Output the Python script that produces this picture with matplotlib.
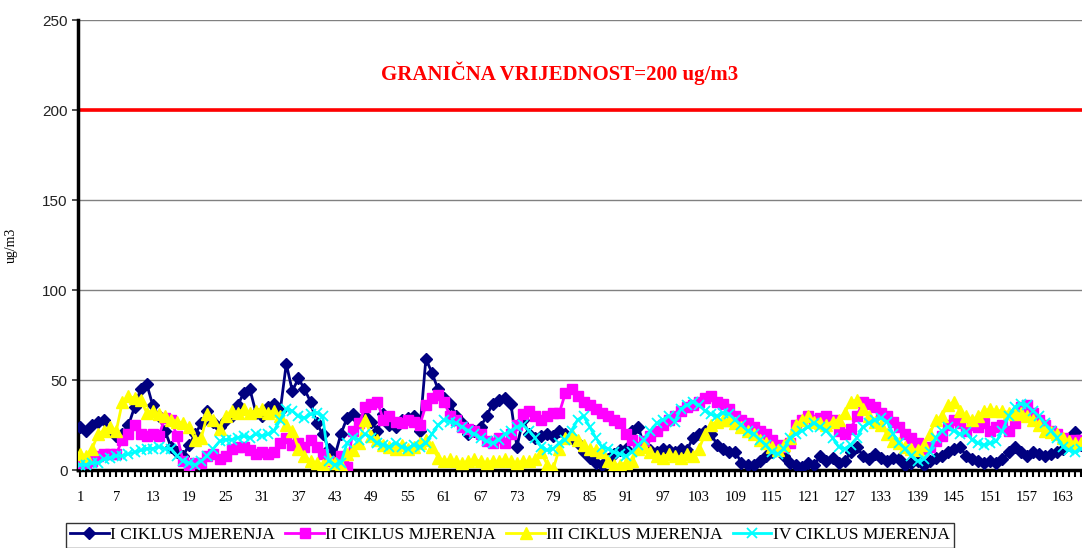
import matplotlib
matplotlib.use("Agg")
import matplotlib.pyplot as plt

ciklus_1 = [24, 22, 25, 27, 28, 22, 19, 20, 25, 35, 45, 48, 36, 30, 22, 13, 10, 8, 14, 20,
            26, 33, 27, 24, 28, 30, 36, 43, 45, 32, 30, 35, 37, 33, 59, 44, 51, 45, 38, 26,
            20, 12, 8, 20, 29, 31, 28, 30, 27, 22, 31, 25, 24, 28, 29, 30, 22, 62, 54, 45,
            40, 37, 30, 26, 20, 22, 24, 30, 37, 39, 40, 37, 13, 28, 20, 18, 19, 20, 19, 22,
            20, 18, 15, 10, 7, 4, 3, 6, 9, 11, 12, 22, 24, 13, 11, 10, 12, 11, 10, 12,
            11, 18, 20, 22, 20, 14, 12, 10, 10, 4, 3, 3, 5, 8, 10, 11, 8, 4, 3, 2,
            4, 3, 8, 5, 7, 4, 5, 10, 13, 8, 6, 9, 7, 5, 7, 6, 3, 4, 5, 3,
            5, 7, 8, 10, 12, 13, 8, 6, 5, 4, 5, 4, 6, 10, 13, 10, 8, 10, 9, 8,
            9, 10, 12, 18, 21, 14]
ciklus_2 = [4, 4, 5, 8, 9, 9, 9, 17, 20, 25, 20, 19, 20, 19, 29, 28, 19, 5, 3, 4,
            4, 8, 9, 6, 8, 12, 13, 13, 11, 9, 10, 9, 10, 15, 18, 14, 15, 13, 17, 13,
            9, 5, 4, 8, 2, 22, 26, 35, 37, 38, 28, 30, 27, 26, 28, 27, 25, 36, 40, 42,
            38, 30, 28, 24, 23, 22, 20, 16, 15, 18, 15, 20, 25, 31, 33, 30, 28, 30, 32, 32,
            43, 45, 41, 38, 36, 34, 32, 30, 28, 26, 20, 17, 13, 16, 19, 22, 25, 28, 30, 33,
            35, 36, 38, 40, 41, 38, 37, 34, 30, 28, 26, 24, 22, 20, 17, 14, 13, 15, 25, 28,
            30, 28, 29, 30, 28, 22, 20, 23, 30, 38, 37, 35, 32, 30, 27, 24, 20, 18, 15, 12,
            13, 16, 19, 25, 28, 26, 22, 25, 24, 26, 22, 24, 25, 22, 26, 35, 36, 32, 28, 25,
            22, 20, 18, 16, 17, 17]
ciklus_3 = [9, 8, 12, 20, 22, 24, 22, 38, 41, 40, 39, 32, 33, 31, 30, 28, 27, 26, 24, 17,
            18, 31, 28, 23, 30, 33, 32, 34, 32, 33, 34, 32, 33, 30, 25, 22, 12, 8, 5, 4,
            3, 6, 4, 3, 9, 11, 15, 28, 19, 17, 14, 13, 12, 14, 12, 13, 15, 17, 13, 7,
            5, 6, 5, 4, 5, 6, 5, 4, 5, 5, 6, 5, 4, 5, 5, 6, 10, 3, 1, 12,
            18, 20, 17, 14, 12, 11, 10, 5, 3, 3, 4, 5, 12, 13, 10, 8, 7, 9, 8, 7,
            9, 8, 12, 20, 25, 27, 28, 28, 26, 24, 22, 20, 17, 15, 13, 11, 14, 18, 25, 28,
            30, 27, 26, 25, 27, 28, 32, 38, 39, 34, 30, 27, 25, 20, 16, 15, 13, 12, 11, 14,
            20, 28, 30, 36, 38, 33, 30, 28, 30, 33, 34, 33, 33, 32, 31, 32, 30, 28, 25, 22,
            21, 20, 18, 16, 15, 15]
ciklus_4 = [3, 3, 4, 4, 6, 7, 8, 8, 9, 10, 11, 12, 12, 13, 12, 12, 8, 5, 4, 3,
            5, 8, 12, 16, 17, 17, 18, 19, 18, 20, 19, 20, 22, 28, 34, 33, 30, 29, 31, 32,
            30, 5, 3, 4, 15, 18, 17, 20, 18, 15, 14, 13, 15, 13, 12, 14, 13, 15, 20, 25,
            28, 27, 26, 24, 22, 20, 18, 16, 15, 17, 20, 22, 24, 25, 22, 18, 13, 11, 12, 15,
            17, 22, 28, 30, 24, 18, 13, 12, 10, 9, 8, 10, 14, 17, 22, 26, 28, 30, 27, 34,
            36, 38, 36, 33, 31, 30, 32, 31, 28, 25, 22, 20, 17, 14, 10, 9, 12, 18, 20, 22,
            24, 26, 24, 22, 18, 13, 12, 14, 18, 24, 26, 28, 29, 27, 20, 15, 12, 8, 5, 6,
            10, 18, 22, 24, 22, 20, 21, 17, 15, 14, 15, 16, 22, 30, 35, 37, 36, 33, 30, 26,
            22, 18, 13, 11, 10, 12]

series_labels = ["I CIKLUS MJERENJA", "II CIKLUS MJERENJA", "III CIKLUS MJERENJA", "IV CIKLUS MJERENJA"]
limit_value = 200
limit_text = "GRANIČNA VRIJEDNOST=200 ug/m3"
y_label = "ug/m3"

n = len(ciklus_1)
x = list(range(1, n + 1))

fig = plt.figure(figsize=(10.82, 5.48), dpi=100)
ax = fig.add_axes([0.072, 0.142, 0.928, 0.8215])

ax.set_ylim(0, 250)
ax.set_xlim(0.67, 166.1)
ax.set_yticks([0, 50, 100, 150, 200, 250])
ax.yaxis.grid(True, color="#808080", linewidth=1.0)
ax.set_axisbelow(True)

ax.axhline(limit_value, color="#FF0000", linewidth=2.6, zorder=2)
ax.text(80, 220.5, limit_text, color="#FF0000", fontsize=15, fontweight="bold",
        family="Liberation Serif", ha="center", va="center")

styles = [
    dict(color="#000080", marker="D", markersize=6),
    dict(color="#FF00FF", marker="s", markersize=6.5),
    dict(color="#FFFF00", marker="^", markersize=8),
    dict(color="#00FFFF", marker="x", markersize=7, markeredgewidth=1.3),
]
handles = []
for data, lab, st in zip([ciklus_1, ciklus_2, ciklus_3, ciklus_4], series_labels, styles):
    ln, = ax.plot(x, data, linewidth=2.0, color=st["color"], marker=st["marker"],
                  markersize=st["markersize"], markeredgewidth=st.get("markeredgewidth", 1.0),
                  markerfacecolor=st["color"], markeredgecolor=st["color"], label=lab, zorder=3)
    handles.append(ln)

for s in ["top", "right"]:
    ax.spines[s].set_visible(False)
ax.spines["left"].set_linewidth(2.5)
ax.spines["bottom"].set_linewidth(2.5)

ax.set_xticks(list(range(1, n + 1, 6)))
ax.set_xticks(x, minor=True)
ax.tick_params(axis="x", which="both", length=5, width=1.5, direction="out", pad=10,
               labelsize=10.5)
ax.tick_params(axis="y", which="major", length=4, width=1.2, direction="out", labelsize=11,
               colors="#333333", labelcolor="#222222")
for lbl in ax.get_xticklabels():
    lbl.set_family("Liberation Serif")
for lbl in ax.get_yticklabels():
    lbl.set_family("Liberation Sans")

ax.set_ylabel(y_label, family="Liberation Serif", fontsize=10)
ax.yaxis.set_label_coords(-0.06, 0.5)

leg = fig.legend(handles=handles, loc="upper left", bbox_to_anchor=(0.061, 0.046),
                 ncol=4, frameon=True, fancybox=False, edgecolor="black",
                 prop={"family": "Liberation Serif", "size": 12.5},
                 handlelength=2.2, handletextpad=0.1, columnspacing=0.6,
                 borderpad=0.25, borderaxespad=0)
leg.get_frame().set_linewidth(1.0)

fig.savefig("out.png", dpi=100)
